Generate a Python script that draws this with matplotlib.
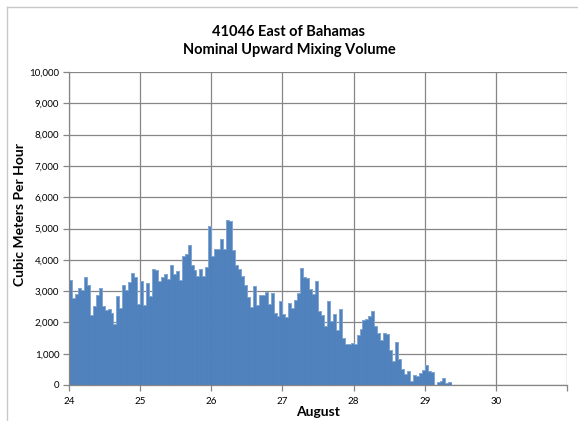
import matplotlib
matplotlib.use("Agg")
import matplotlib.pyplot as plt
from matplotlib.ticker import FuncFormatter, MultipleLocator
from matplotlib.lines import Line2D
import numpy as np

plt.rcParams['font.family'] = ['Lato', 'DejaVu Sans']

# Hourly mixing volume (m^3/h), starting 24 August 00:00
day24 = [3340, 2790, 2900, 3085, 3020, 3450, 3200, 2245, 2530, 2880, 3085, 2510,
         2390, 2440, 2310, 1940, 2830, 2460, 3180, 3050, 3290, 3585, 3450, 2585]
day25 = [3320, 2560, 3245, 2840, 3710, 3670, 3310, 3450, 3540, 3390, 3840, 3540,
         3630, 3360, 4120, 4200, 4480, 3820, 3690, 3470, 3710, 3490, 3780, 5070]
day26 = [4120, 4330, 4330, 4650, 4350, 5280, 5245, 4310, 3840, 3710, 3480, 3180,
         2820, 2480, 3170, 2560, 2880, 2860, 2970, 2585, 2925, 2310, 2210, 2680]
day27 = [2280, 2160, 2620, 2450, 2730, 2935, 3745, 3450, 3425, 3075, 2915, 3310,
         2380, 2225, 1890, 2680, 2030, 2255, 1745, 2425, 1510, 1320, 1300, 1340]
day28 = [1300, 1605, 1775, 2065, 2095, 2190, 2360, 1880, 1670, 1435, 1670, 1640,
         1130, 780, 1370, 830, 500, 360, 435, 140, 310, 290, 390, 470]
day29 = [650, 460, 405, 0, 85, 130, 225, 55, 105]

volume = day24 + day25 + day26 + day27 + day28 + day29
start_day = 24
hours = start_day + np.arange(len(volume)) / 24.0

day_ticks = [24, 25, 26, 27, 28, 29, 30, 31]
day_labels = ['24', '25', '26', '27', '28', '29', '30', '']

title_text = "41046 East of Bahamas\nNominal Upward Mixing Volume"
ylabel_text = "Cubic Meters Per Hour"
xlabel_text = "August"

W, H = 578, 421
fig = plt.figure(figsize=(W / 100, H / 100), dpi=100)
ax = fig.add_axes([69 / W, 1 - 385 / H, (567 - 69) / W, (385 - 72) / H])

grid_col = '#868686'
bar_col = '#4F81BD'
ax.bar(hours, volume, width=1 / 24, align='edge', color=bar_col,
       edgecolor=bar_col, linewidth=0.5, zorder=3)
# light outline along the bar tops
ax.step(np.append(hours, hours[-1] + 1 / 24), volume + [volume[-1]], where='post',
        color='#8fb0d8', linewidth=0.5, zorder=3.5)

ax.set_xlim(24, 31)
ax.set_ylim(0, 10000)
ax.set_xticks(day_ticks)
ax.set_xticklabels(day_labels)
ax.yaxis.set_major_locator(MultipleLocator(1000))
ax.yaxis.set_major_formatter(FuncFormatter(lambda v, p: f"{int(v):,}"))

ax.grid(True, color=grid_col, linewidth=0.9, zorder=0)
for s in ['top', 'right']:
    ax.spines[s].set_visible(False)
for s in ['left', 'bottom']:
    ax.spines[s].set_color(grid_col)
    ax.spines[s].set_linewidth(0.9)
    ax.spines[s].set_zorder(4)

ax.tick_params(axis='both', direction='out', length=4, width=0.9,
               color=grid_col, labelsize=7, labelcolor='black')
ax.tick_params(axis='y', pad=3)
ax.tick_params(axis='x', pad=5)

fig.text(289 / W, 1 - 41 / H, title_text, ha='center', va='center',
         fontsize=10.5, fontweight='bold', linespacing=1.45)
fig.text(20 / W, 1 - 215 / H, ylabel_text, ha='center', va='center',
         rotation=90, fontsize=10, fontweight='bold')
fig.text(318 / W, 1 - 412 / H, xlabel_text, ha='center', va='center',
         fontsize=10, fontweight='bold')

# chart frame (left and top edges)
fig.add_artist(Line2D([7 / W, 7 / W], [0, 1 - 7 / H], transform=fig.transFigure,
                      color='#c8c8c8', linewidth=1.0))
fig.add_artist(Line2D([7 / W, 1], [1 - 7 / H, 1 - 7 / H], transform=fig.transFigure,
                      color='#c8c8c8', linewidth=1.0))

fig.savefig("out.png", dpi=100)
